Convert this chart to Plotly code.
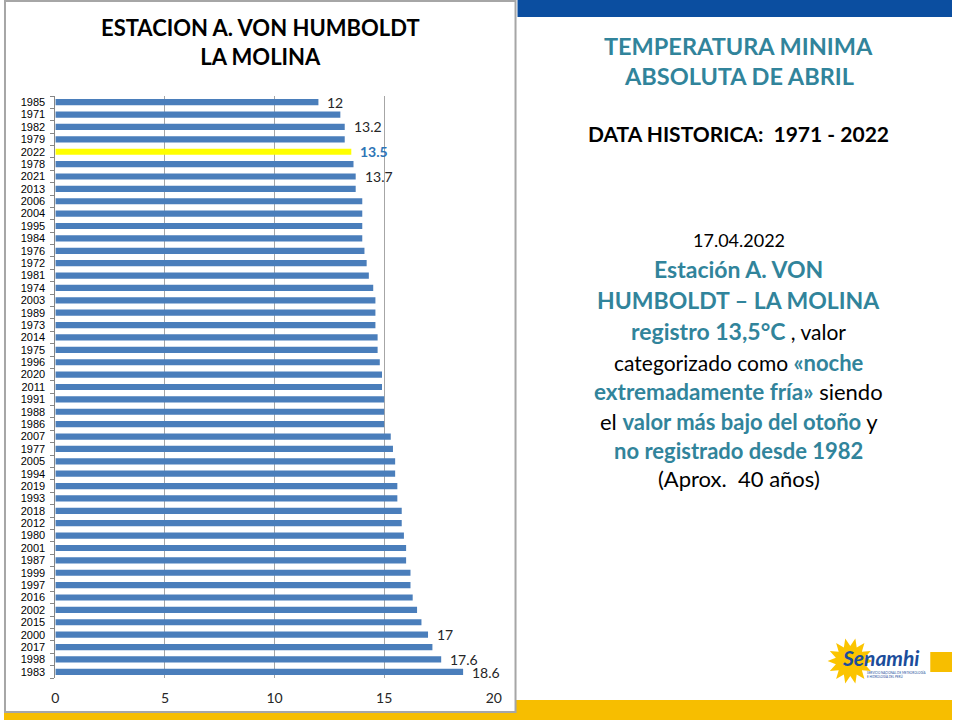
import numpy as np
import plotly.graph_objects as go

# ---------------- data ----------------
years = ["1985", "1971", "1982", "1979", "2022", "1978", "2021", "2013", "2006", "2004",
         "1995", "1984", "1976", "1972", "1981", "1974", "2003", "1989", "1973", "2014",
         "1975", "1996", "2020", "2011", "1991", "1988", "1986", "2007", "1977", "2005",
         "1994", "2019", "1993", "2018", "2012", "1980", "2001", "1987", "1999", "1997",
         "2016", "2002", "2015", "2000", "2017", "1998", "1983"]
tmin = [12.0, 13.0, 13.2, 13.2, 13.5, 13.6, 13.7, 13.7, 14.0, 14.0,
        14.0, 14.0, 14.1, 14.2, 14.3, 14.5, 14.6, 14.6, 14.6, 14.7,
        14.7, 14.8, 14.9, 14.9, 15.0, 15.0, 15.0, 15.3, 15.4, 15.5,
        15.5, 15.6, 15.6, 15.8, 15.8, 15.9, 16.0, 16.0, 16.2, 16.2,
        16.3, 16.5, 16.7, 17.0, 17.2, 17.6, 18.6]
label_years = ["1985", "1982", "2022", "2021", "2000", "1998", "1983"]
highlight_year = "2022"
x_ticks = [0, 5, 10, 15, 20]

# ---------------- styles ----------------
BLUE_BAR = "#4A7EBB"
YELLOW = "#FFFF00"
TEAL = "#31849B"
FONT = "Lato"
TICKFONT = "Liberation Sans"
NB = "&nbsp;"

W, H = 960, 720
def px(x):
    return x / W
def py(y):
    return 1 - y / H

colors = [YELLOW if y == highlight_year else BLUE_BAR for y in years]

fig = go.Figure()
fig.add_trace(go.Bar(
    x=tmin, y=years, orientation="h",
    marker=dict(color=colors, line=dict(width=0)),
    width=0.5, hoverinfo="x+y", showlegend=False,
))

# data labels (category axis -> use category index)
annotations = []
for i, (y, v) in enumerate(zip(years, tmin)):
    if y in label_years:
        hl = (y == highlight_year)
        annotations.append(dict(
            x=v, y=i, xref="x", yref="y", text=f"{v:g}", showarrow=False,
            xanchor="left", yanchor="middle", xshift=7,
            yshift=(-1 if y == "1983" else 0),
            font=dict(family=FONT, size=14,
                      color=("#2E75B6" if hl else "#262626"),
                      weight=("bold" if hl else "normal")),
        ))

# left title
annotations.append(dict(
    x=px(260), y=py(42), xref="paper", yref="paper", showarrow=False,
    text="<b>ESTACION A. VON HUMBOLDT<br>LA MOLINA</b>",
    align="center", xanchor="center", yanchor="middle",
    font=dict(family=FONT, size=22, color="#000000"),
))

# right text block
def rline(ypos, html, size=21):
    annotations.append(dict(
        x=px(744), y=py(ypos), xref="paper", yref="paper", showarrow=False,
        text=html, xanchor="center", yanchor="middle", align="center",
        font=dict(family=FONT, size=size, color="#000000"),
    ))

def teal(s, size=None):
    st = f"color:{TEAL};"
    if size:
        st += f"font-size:{size}px;"
    return f"<span style='{st}'><b>{s}</b></span>"

rline(46, teal("TEMPERATURA MINIMA"), 23.5)
rline(76, teal("ABSOLUTA DE ABRIL"), 23.5)
rline(133, f"<b>DATA HISTORICA:{NB} 1971 - 2022</b>", 21)
rline(240, "17.04.2022", 18)
rline(269, teal("Estación A. VON"), 23)
rline(300, teal("HUMBOLDT – LA MOLINA"), 23)
rline(331, teal("registro 13,5°C", 23) + " , valor", 21)
rline(362, "categorizado como " + teal("«noche", 22), 21)
rline(392, teal("extremadamente fría»", 22.5) + " siendo", 22)
rline(421, "el " + teal("valor más bajo del otoño", 22) + " y", 22)
rline(450, teal("no registrado desde 1982"), 22)
rline(478, f"(Aprox.{NB} 40 años)", 22)

# logo text
annotations.append(dict(
    x=px(888), y=py(657), xref="paper", yref="paper", showarrow=False,
    text="<b><i>Senamhi</i></b>", xanchor="center", yanchor="middle",
    font=dict(family=FONT, size=21, color="#1B4D9B"),
))
annotations.append(dict(
    x=px(872), y=py(674), xref="paper", yref="paper", showarrow=False,
    text="SERVICIO NACIONAL DE METEOROLOGÍA<br>E HIDROLOGÍA DEL PERÚ", xanchor="left",
    yanchor="middle", align="left",
    font=dict(family=FONT, size=3, color="#1B4D9B"),
))

# ---------------- shapes ----------------
shapes = []
shapes.append(dict(type="rect", xref="paper", yref="paper", layer="below",
                   x0=0, x1=1, y0=py(720), y1=py(700),
                   fillcolor="#F7BE00", line=dict(width=0)))
shapes.append(dict(type="rect", xref="paper", yref="paper", layer="below",
                   x0=px(520), x1=1, y0=py(17), y1=1,
                   fillcolor="#0B4EA0", line=dict(width=0)))
shapes.append(dict(type="rect", xref="paper", yref="paper", layer="below",
                   x0=px(1), x1=px(518), y0=py(712), y1=py(1),
                   fillcolor="#FFFFFF", line=dict(color="#A6A6A6", width=2)))
shapes.append(dict(type="rect", xref="paper", yref="paper", layer="below",
                   x0=px(938), x1=1, y0=py(672), y1=py(652),
                   fillcolor="#F7BE00", line=dict(width=0)))
cx, cy, r_out, r_in, n = 857, 661, 23, 15, 14
ang = np.linspace(0, 2 * np.pi, 2 * n, endpoint=False)
rad = np.where(np.arange(2 * n) % 2 == 0, r_out, r_in)
pts = [(cx + r * np.cos(a), cy + r * np.sin(a)) for r, a in zip(rad, ang)]
path = "M " + " L ".join(f"{px(xx):.5f},{py(yy):.5f}" for xx, yy in pts) + " Z"
shapes.append(dict(type="path", xref="paper", yref="paper", layer="below",
                   path=path, fillcolor="#FBC400", line=dict(width=0)))

fig.update_layout(
    width=W, height=H,
    margin=dict(l=0, r=0, t=0, b=0),
    paper_bgcolor="#FFFFFF", plot_bgcolor="rgba(0,0,0,0)",
    bargap=0.5,
    annotations=annotations, shapes=shapes,
    xaxis=dict(domain=[px(52), px(496)], range=[0, 20], tickvals=x_ticks,
               showgrid=True, gridcolor="#A6A6A6", gridwidth=1,
               zeroline=False, showline=False, ticks="",
               ticklabelstandoff=10,
               tickfont=dict(family=FONT, size=14, color="#262626"),
               fixedrange=True),
    yaxis=dict(domain=[py(678), py(96)], type="category",
               categoryorder="array", categoryarray=years,
               tickmode="array", tickvals=years, ticktext=years,
               range=[len(years) - 0.5, -0.5], autorange=False,
               showline=True, linecolor="#868686", linewidth=1,
               ticks="outside", tickson="boundaries", ticklen=4, tickcolor="#868686",
               ticklabelstandoff=7,
               showgrid=False,
               tickfont=dict(family=TICKFONT, size=11, color="#000000"),
               fixedrange=True),
    font=dict(family=FONT),
)

fig.write_html(
    "out.html",
    post_script=("document.documentElement.style.overflow='hidden';"
                 "document.body.style.margin='0';document.body.style.overflow='hidden';"),
)
